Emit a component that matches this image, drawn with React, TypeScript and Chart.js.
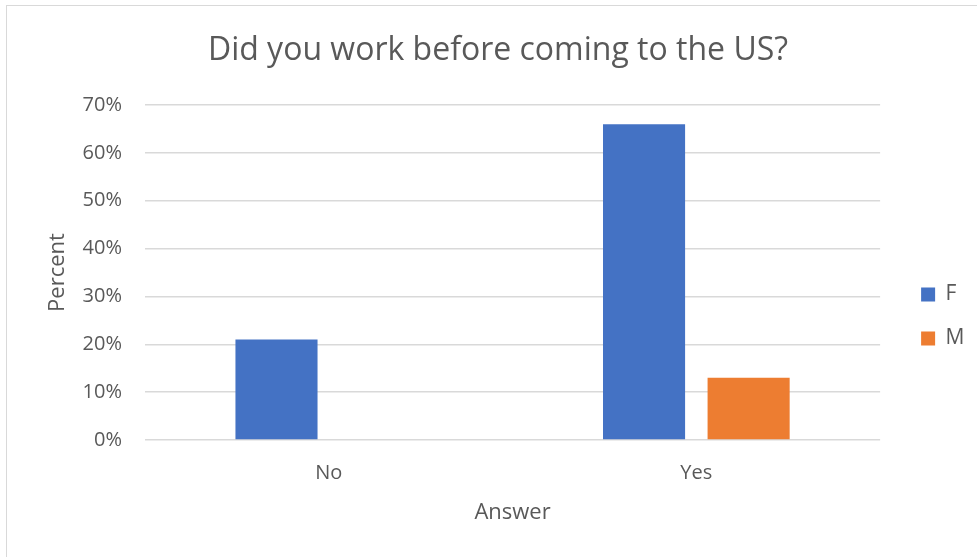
import React, { useEffect, useRef } from "react";
import { Chart, registerables } from "chart.js";

Chart.register(...registerables);

const categories = ["No", "Yes"];
const femaleValues = [21, 66];
const maleValues = [0, 13];
const seriesLabels = ["F", "M"];
const yTicks = [0, 10, 20, 30, 40, 50, 60, 70];
const titleText = "Did you work before coming to the US?";
const xTitle = "Answer";
const yTitle = "Percent";

const TEXT = "#595959";
const GRID = "#d9d9d9";
const FONT = "'Open Sans', sans-serif";

export default function App() {
  const ref = useRef<HTMLCanvasElement | null>(null);

  useEffect(() => {
    if (!ref.current) return;
    const chart = new Chart(ref.current, {
      type: "bar",
      data: {
        labels: categories,
        datasets: [
          {
            label: seriesLabels[0],
            data: femaleValues,
            backgroundColor: "#4472C4",
            borderWidth: 0,
            categoryPercentage: 0.569,
            barPercentage: 0.785,
          },
          {
            label: seriesLabels[1],
            data: maleValues,
            backgroundColor: "#ED7D31",
            borderWidth: 0,
            categoryPercentage: 0.569,
            barPercentage: 0.785,
          },
        ],
      },
      options: {
        animation: false,
        responsive: false,
        devicePixelRatio: 1,
        layout: { padding: { left: 14.5, right: 2.5, top: 0, bottom: 31 } },
        font: { family: FONT },
        plugins: {
          title: {
            display: true,
            text: titleText,
            color: TEXT,
            font: { family: FONT, size: 32, weight: "normal" },
            padding: { top: 26, bottom: 34.6 },
          },
          legend: {
            display: true,
            position: "right",
            align: "center",
            fullSize: false,
            title: {
              display: true,
              text: " ",
              font: { family: FONT, size: 10 },
              padding: { top: 76, bottom: 0 },
            },
            labels: {
              boxWidth: 14,
              boxHeight: 14,
              padding: 23,
              color: TEXT,
              font: { family: FONT, size: 21 },
            },
          },
          tooltip: { enabled: false },
        },
        scales: {
          x: {
            grid: { display: false },
            border: { display: false },
            ticks: {
              color: TEXT,
              font: { family: FONT, size: 20 },
              padding: 13,
            },
            title: {
              display: true,
              text: xTitle,
              color: TEXT,
              font: { family: FONT, size: 22 },
              padding: { top: 0, bottom: 0 },
            },
            afterFit: (s: any) => {
              s.height = 86;
            },
          },
          y: {
            min: yTicks[0],
            max: yTicks[yTicks.length - 1],
            grid: { color: GRID, lineWidth: 1.5, drawTicks: false },
            border: { display: false },
            ticks: {
              stepSize: 10,
              color: TEXT,
              font: { family: FONT, size: 20 },
              padding: 23,
              callback: (v: any) => v + "%",
            },
            afterBuildTicks: (s: any) => {
              s.ticks = yTicks.map((v) => ({ value: v }));
            },
            title: {
              display: true,
              text: yTitle,
              color: TEXT,
              font: { family: FONT, size: 22 },
              padding: { top: 23.3, bottom: 0 },
            },
            afterFit: (s: any) => {
              s.width = 123.5;
            },
          },
          gap: {
            type: "linear",
            position: "right",
            display: true,
            grid: { display: false },
            border: { display: false },
            ticks: { display: false },
            afterFit: (s: any) => {
              s.width = 18;
            },
          },
        },
      },
    } as any);
    return () => chart.destroy();
  }, []);

  return (
    <div
      style={{
        position: "fixed",
        left: 0,
        top: 0,
        width: 977,
        height: 557,
        overflow: "hidden",
        background: "#ffffff",
      }}
    >
      <div
        style={{
          position: "absolute",
          left: 6,
          top: 5,
          width: 1000,
          height: 600,
          borderLeft: `1px solid ${GRID}`,
          borderTop: `1px solid ${GRID}`,
        }}
      />
      <canvas
        ref={ref}
        width={970}
        height={551}
        style={{ position: "absolute", left: 7, top: 6, width: 970, height: 551 }}
      />
    </div>
  );
}
